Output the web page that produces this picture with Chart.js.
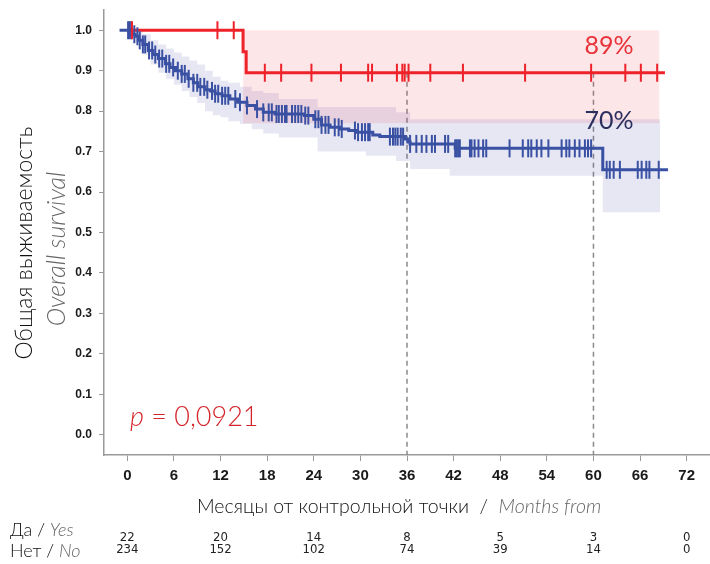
<!DOCTYPE html>
<html>
<head>
<meta charset="utf-8">
<script src="https://cdn.jsdelivr.net/npm/chart.js@4.4.1/dist/chart.umd.min.js"></script>
<style>
  html, body { margin: 0; padding: 0; background: #fff; }
  #wrap { width: 710px; height: 564px; position: relative; }
</style>
</head>
<body>
<div id="wrap"><canvas id="kmChart"></canvas></div>
<script>
// Kaplan-Meier overall survival, two groups (Да / Нет)

const monthTicks = [0, 6, 12, 18, 24, 30, 36, 42, 48, 54, 60, 66, 72];
const survivalTicks = [0, 0.1, 0.2, 0.3, 0.4, 0.5, 0.6, 0.7, 0.8, 0.9, 1.0];

// group "Да / Yes" (red)
const yesTimes = [0, 14.9, 15.3, 69.2];
const yesSurv = [1, 0.947, 0.895, 0.895];
const yesCensored = [0.6, 11.6, 13.7, 17.7, 19.8, 23.7, 27.5, 31.0, 31.5, 34.7, 35.4, 35.7, 36.2,
    39.0, 43.2, 51.2, 59.7, 64.1, 66.1, 68.2];
const yesBandTimes = [14.9, 68.5];
const yesBandUpper = [1, 1];
const yesBandLower = [0.77, 0.77];

// group "Нет / No" (blue)
const noTimes = [-1, 0.6, 1.0, 1.5, 2.0, 2.7, 3.3, 4.0, 4.9, 5.5, 6.2, 7.0, 7.8, 8.5, 9.1, 10.0,
    10.7, 11.3, 12.2, 13.2, 14.2, 15.4, 16.5, 17.5, 19.0, 22.8, 24.0, 25.0, 26.1, 27.4, 28.5, 29.5,
    31.6, 32.5, 35.8, 36.1, 36.4, 42.2, 61.2, 69.6];
const noSurv = [1, 0.99, 0.985, 0.975, 0.965, 0.95, 0.94, 0.93, 0.917, 0.908, 0.9, 0.892, 0.88,
    0.87, 0.86, 0.853, 0.85, 0.843, 0.838, 0.83, 0.822, 0.814, 0.805, 0.797, 0.793, 0.789, 0.78,
    0.766, 0.76, 0.756, 0.752, 0.748, 0.741, 0.737, 0.731, 0.724, 0.719, 0.708, 0.655, 0.655];
const noCensored = [0.1, 0.3, 0.5, 0.9, 1.3, 1.6, 2.0, 2.3, 2.8, 3.2, 3.6, 4.1, 4.5, 5.0, 5.4, 5.9,
    6.5, 7.0, 7.4, 7.9, 8.5, 9.0, 9.4, 9.9, 10.3, 10.9, 11.3, 11.7, 12.2, 12.6, 13.0, 13.9, 14.5,
    15.4, 16.7, 17.5, 18.2, 18.6, 19.2, 19.5, 19.9, 20.3, 20.5, 21.2, 21.6, 22.0, 22.4, 22.9, 23.3,
    24.2, 24.6, 25.0, 25.5, 25.9, 26.7, 27.2, 27.6, 29.3, 29.7, 30.2, 30.6, 31.0, 31.2, 33.8, 34.2,
    34.5, 34.8, 35.2, 35.5, 36.4, 37.2, 37.9, 38.5, 39.2, 39.6, 40.9, 41.3, 42.2, 42.4, 42.6, 42.8,
    44.1, 44.3, 44.7, 45.2, 45.8, 46.2, 49.2, 50.9, 51.6, 52.0, 52.7, 53.3, 54.2, 55.9, 56.5, 56.9,
    57.6, 58.2, 58.9, 59.3, 59.7, 61.7, 62.1, 62.6, 63.4, 65.7, 66.2, 66.8, 67.2, 68.4];
const noBandTimes = [0, 1, 2, 3, 4, 5, 6, 7, 8, 9, 10, 11, 12, 13, 14.5, 16, 17.5, 19.5, 24.5,
    30.7, 34.6, 36.4, 41.5, 61.2, 68.6];
const noBandUpper = [1, 1, 0.99, 0.975, 0.965, 0.955, 0.945, 0.935, 0.925, 0.915, 0.9, 0.885,
    0.875, 0.87, 0.86, 0.85, 0.845, 0.83, 0.81, 0.81, 0.797, 0.78, 0.78, 0.78, 0.78];
const noBandLower = [1, 0.97, 0.94, 0.915, 0.895, 0.88, 0.865, 0.85, 0.835, 0.82, 0.8, 0.79,
    0.785, 0.775, 0.768, 0.755, 0.745, 0.735, 0.7, 0.69, 0.677, 0.657, 0.64, 0.55, 0.55];

// numbers at risk
const riskMonths = [0, 12, 24, 36, 48, 60, 72];
const riskYes = [22, 20, 14, 8, 5, 3, 0];
const riskNo = [234, 152, 102, 74, 39, 14, 0];

const landmarkMonths = [36, 60];
const yesLandmarkLabel = '89%';
const noLandmarkLabel = '70%';
const pValueLabel = '0,0921';

const RED = '#ee2229';
const BLUE = '#3a51a3';
const SANS = "Lato, 'Noto Sans', sans-serif";

function survAt(times, surv, t) {
    let v = surv[0];
    for (let i = 0; i < times.length; i++) {
        if (times[i] <= t) v = surv[i];
    }
    return v;
}

function toPoints(xs, ys) {
    return xs.map((x, i) => ({ x: x, y: ys[i] }));
}

function censorPoints(list, times, surv) {
    return list.map(t => ({ x: t, y: survAt(times, surv, t) }));
}

// draw a row of differently styled text pieces
function drawRuns(ctx, runs, x, y, align) {
    let total = 0;
    runs.forEach(r => { ctx.font = r.font; total += ctx.measureText(r.text).width; });
    let cx = align === 'center' ? x - total / 2 : x;
    ctx.textAlign = 'left';
    ctx.textBaseline = 'middle';
    runs.forEach(r => {
        ctx.font = r.font;
        ctx.fillStyle = r.color;
        ctx.fillText(r.text, cx, y);
        cx += ctx.measureText(r.text).width;
    });
}

// no extra room around the plot for overflowing tick labels
function fixPadding(axis) {
    axis.paddingLeft = 0;
    axis.paddingRight = 0;
    axis.paddingTop = 0;
    axis.paddingBottom = 0;
}

const extrasPlugin = {
    id: 'kmExtras',
    beforeDatasetsDraw(chart) {
        const ctx = chart.ctx;
        const xs = chart.scales.x, ys = chart.scales.y;
        ctx.save();
        ctx.strokeStyle = '#8a8a8a';
        ctx.lineWidth = 1.5;
        ctx.setLineDash([5, 4]);
        landmarkMonths.forEach(m => {
            const px = xs.getPixelForValue(m);
            ctx.beginPath();
            ctx.moveTo(px, ys.getPixelForValue(survAt(yesTimes, yesSurv, m)));
            ctx.lineTo(px, chart.chartArea.bottom);
            ctx.stroke();
        });
        ctx.restore();
    },
    afterDraw(chart) {
        const ctx = chart.ctx;
        const xs = chart.scales.x, ys = chart.scales.y;
        ctx.save();

        // landmark percentages
        ctx.textAlign = 'center';
        ctx.textBaseline = 'middle';
        ctx.font = '400 25px ' + SANS;
        ctx.fillStyle = '#e8333b';
        ctx.fillText(yesLandmarkLabel, xs.getPixelForValue(62.0), ys.getPixelForValue(0.962));
        ctx.fillStyle = '#2b2f5e';
        ctx.fillText(noLandmarkLabel, xs.getPixelForValue(62.0), ys.getPixelForValue(0.777));

        // p-value
        drawRuns(ctx, [
            { text: 'p', font: 'italic 300 27px ' + SANS, color: '#d4252b' },
            { text: ' = ', font: '300 27px ' + SANS, color: '#d4252b' },
            { text: pValueLabel, font: '300 27px ' + SANS, color: '#d4252b' }
        ], 130, ys.getPixelForValue(0.043), 'left');

        // y axis title, two lines
        ctx.save();
        ctx.translate(25, 243);
        ctx.rotate(-Math.PI / 2);
        ctx.textAlign = 'center';
        ctx.textBaseline = 'middle';
        ctx.font = '300 23px ' + SANS;
        ctx.fillStyle = '#111';
        ctx.fillText('Общая выживаемость', 0, 0);
        ctx.font = 'italic 300 25px ' + SANS;
        ctx.fillStyle = '#666';
        ctx.fillText('Overall survival', -6, 32);
        ctx.restore();

        // x axis title
        drawRuns(ctx, [
            { text: 'Месяцы от контрольной точки  /  ', font: '300 19.5px ' + SANS, color: '#111' },
            { text: 'Months from', font: 'italic 300 19.5px ' + SANS, color: '#666' }
        ], 399, 507, 'center');

        // risk table
        drawRuns(ctx, [
            { text: 'Да / ', font: '300 18px ' + SANS, color: '#111' },
            { text: 'Yes', font: 'italic 300 18px ' + SANS, color: '#666' }
        ], 10, 530, 'left');
        drawRuns(ctx, [
            { text: 'Нет / ', font: '300 18px ' + SANS, color: '#111' },
            { text: 'No', font: 'italic 300 18px ' + SANS, color: '#666' }
        ], 10, 551, 'left');
        ctx.font = "13px 'Liberation Sans Narrow', 'DejaVu Sans Condensed', 'Liberation Sans', sans-serif";
        ctx.fillStyle = '#222';
        ctx.textAlign = 'center';
        ctx.textBaseline = 'middle';
        riskMonths.forEach((m, i) => {
            const px = xs.getPixelForValue(m);
            ctx.fillText(String(riskYes[i]), px, 538);
            ctx.fillText(String(riskNo[i]), px, 550);
        });
        ctx.restore();
    }
};

new Chart(document.getElementById('kmChart'), {
    type: 'line',
    data: {
        datasets: [
            {
                data: censorPoints(yesCensored, yesTimes, yesSurv),
                showLine: false,
                pointStyle: 'line',
                rotation: 90,
                pointRadius: 9,
                pointBorderWidth: 2,
                borderColor: RED,
                order: 0
            },
            {
                data: censorPoints(noCensored, noTimes, noSurv),
                showLine: false,
                pointStyle: 'line',
                rotation: 90,
                pointRadius: 9,
                pointBorderWidth: 2,
                borderColor: BLUE,
                order: 1
            },
            {
                data: toPoints(yesTimes, yesSurv),
                stepped: true,
                borderColor: RED,
                borderWidth: 3,
                pointRadius: 0,
                fill: false,
                order: 2
            },
            {
                data: toPoints(noTimes, noSurv),
                stepped: true,
                borderColor: BLUE,
                borderWidth: 3,
                pointRadius: 0,
                fill: false,
                order: 3
            },
            {
                data: toPoints(yesBandTimes, yesBandUpper),
                stepped: true,
                borderWidth: 0,
                borderColor: 'rgba(0,0,0,0)',
                pointRadius: 0,
                fill: '+1',
                backgroundColor: 'rgba(240,60,80,0.13)',
                order: 4
            },
            {
                data: toPoints(yesBandTimes, yesBandLower),
                stepped: true,
                borderWidth: 0,
                borderColor: 'rgba(0,0,0,0)',
                pointRadius: 0,
                fill: false,
                order: 4
            },
            {
                data: toPoints(noBandTimes, noBandUpper),
                stepped: true,
                borderWidth: 0,
                borderColor: 'rgba(0,0,0,0)',
                pointRadius: 0,
                fill: '+1',
                backgroundColor: 'rgba(70,70,170,0.13)',
                order: 5
            },
            {
                data: toPoints(noBandTimes, noBandLower),
                stepped: true,
                borderWidth: 0,
                borderColor: 'rgba(0,0,0,0)',
                pointRadius: 0,
                fill: false,
                order: 5
            }
        ]
    },
    options: {
        responsive: true,
        maintainAspectRatio: false,
        animation: false,
        layout: { autoPadding: false, padding: { top: 10, right: 0, bottom: 0, left: 0 } },
        plugins: {
            legend: { display: false },
            tooltip: { enabled: false }
        },
        scales: {
            x: {
                type: 'linear',
                min: -3,
                max: 75,
                afterBuildTicks: axis => { axis.ticks = monthTicks.map(v => ({ value: v })); },
                afterFit: axis => { axis.height = 109; fixPadding(axis); },
                grid: { drawOnChartArea: false, drawTicks: true, tickLength: 6, color: '#999' },
                border: { display: true, color: '#999', width: 1.5 },
                ticks: {
                    padding: 6,
                    color: '#1a1a1a',
                    font: { family: "'Liberation Sans', Arial, sans-serif", size: 15, weight: 'bold' },
                    maxRotation: 0
                }
            },
            y: {
                type: 'linear',
                min: -0.05,
                max: 1.05,
                afterBuildTicks: axis => { axis.ticks = survivalTicks.map(v => ({ value: v })); },
                afterFit: axis => { axis.width = 104; fixPadding(axis); },
                grid: { drawOnChartArea: false, drawTicks: true, tickLength: 5, color: '#999' },
                border: { display: true, color: '#999', width: 1.5 },
                ticks: {
                    padding: 7,
                    color: '#1a1a1a',
                    font: { family: "'Liberation Sans', Arial, sans-serif", size: 12, weight: 'bold' },
                    callback: v => v.toFixed(1)
                }
            }
        }
    },
    plugins: [extrasPlugin]
});
</script>
</body>
</html>
